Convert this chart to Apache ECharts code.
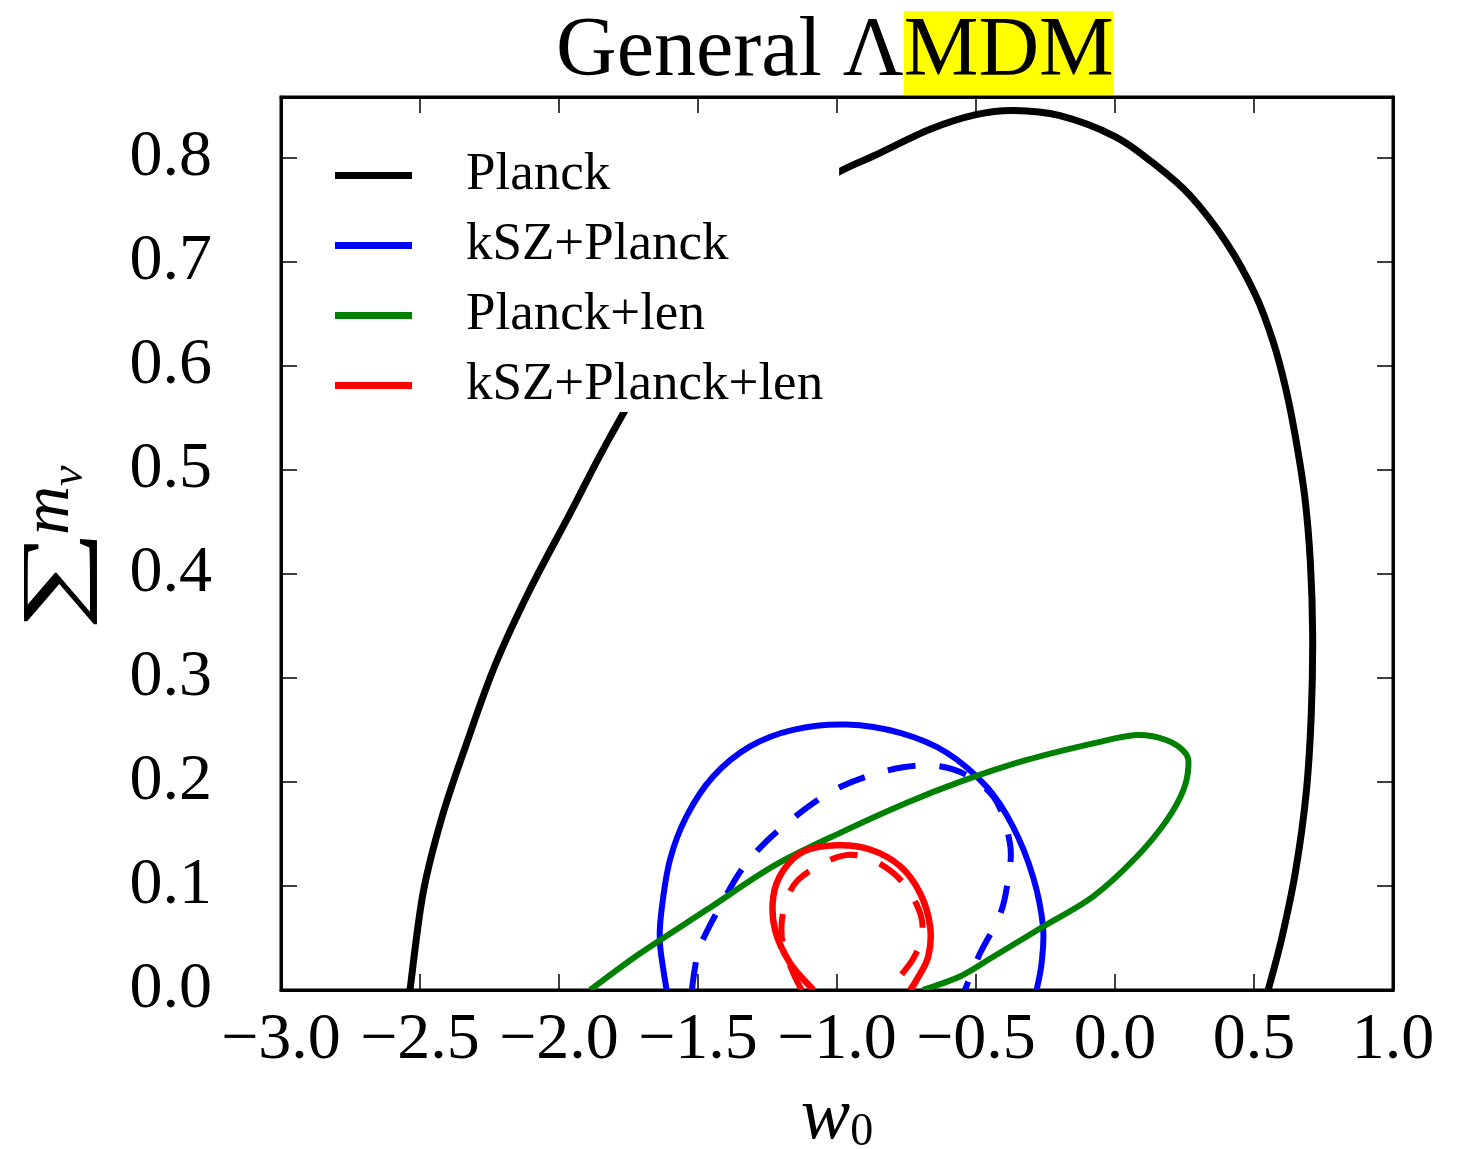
<!DOCTYPE html>
<html>
<head>
<meta charset="utf-8">
<script src="https://cdn.jsdelivr.net/npm/echarts@6/dist/echarts.min.js"></script>
<style>
  html, body { margin: 0; padding: 0; background: #ffffff; overflow: hidden; }
  #chart { width: 1467px; height: 1149px; }
</style>
</head>
<body>
<div id="chart"></div>
<script>
// Confidence contours in the (w0, sum of neutrino masses) plane.
// Each contour is a list of [w0, sum m_nu] points.

var xTicks = [-3.0, -2.5, -2.0, -1.5, -1.0, -0.5, 0.0, 0.5, 1.0];
var yTicks = [0.0, 0.1, 0.2, 0.3, 0.4, 0.5, 0.6, 0.7, 0.8];

var legendNames = ['Planck', 'kSZ+Planck', 'Planck+len', 'kSZ+Planck+len'];

var planck = [
  [-2.536, 0.000], [-2.489, 0.093], [-2.421, 0.166], [-2.331, 0.238],
  [-2.230, 0.312], [-2.104, 0.385], [-1.960, 0.458], [-1.817, 0.531],
  [-1.600, 0.630], [-1.400, 0.700], [-1.200, 0.752], [-1.000, 0.785],
  [-0.863, 0.802], [-0.665, 0.827], [-0.500, 0.841], [-0.364, 0.845],
  [-0.198, 0.840], [0.000, 0.820], [0.135, 0.795], [0.268, 0.764],
  [0.401, 0.718], [0.505, 0.668], [0.570, 0.622], [0.615, 0.577],
  [0.650, 0.530], [0.683, 0.473], [0.703, 0.410], [0.711, 0.341],
  [0.706, 0.265], [0.688, 0.190], [0.650, 0.115], [0.600, 0.050],
  [0.551, 0.000]
];

var kszPlanck = [
  [-1.613, 0.000], [-1.637, 0.045], [-1.631, 0.077], [-1.601, 0.125],
  [-1.541, 0.167], [-1.446, 0.205], [-1.313, 0.234], [-1.158, 0.250],
  [-0.965, 0.255], [-0.773, 0.247], [-0.605, 0.228], [-0.461, 0.195],
  [-0.367, 0.157], [-0.295, 0.109], [-0.259, 0.061], [-0.264, 0.026],
  [-0.282, 0.000]
];

var kszPlanckInner = [
  [-1.522, 0.000], [-1.511, 0.021], [-1.493, 0.042], [-1.421, 0.080],
  [-1.325, 0.122], [-1.181, 0.160], [-0.989, 0.195], [-0.762, 0.214],
  [-0.582, 0.212], [-0.438, 0.186], [-0.378, 0.141], [-0.385, 0.106],
  [-0.414, 0.072], [-0.486, 0.035], [-0.540, 0.000]
];

var planckLen = [
  [-1.888, 0.000], [-1.709, 0.035], [-1.469, 0.077], [-1.229, 0.119],
  [-0.989, 0.151], [-0.749, 0.180], [-0.558, 0.200], [-0.318, 0.221],
  [-0.078, 0.237], [0.078, 0.245], [0.186, 0.240], [0.252, 0.228],
  [0.264, 0.215], [0.246, 0.192], [0.186, 0.163], [0.078, 0.128],
  [-0.078, 0.090], [-0.258, 0.061], [-0.438, 0.032], [-0.558, 0.013],
  [-0.691, 0.000]
];

var kszPlanckLen = [
  [-1.085, 0.000], [-1.169, 0.026], [-1.223, 0.058], [-1.229, 0.090],
  [-1.193, 0.115], [-1.121, 0.133], [-1.001, 0.139], [-0.881, 0.135],
  [-0.773, 0.119], [-0.701, 0.093], [-0.665, 0.061], [-0.672, 0.032],
  [-0.713, 0.010], [-0.737, 0.000]
];

var kszPlanckLenInner = [
  [-1.127, 0.000], [-1.157, 0.016], [-1.193, 0.042], [-1.199, 0.064],
  [-1.181, 0.087], [-1.139, 0.106], [-1.049, 0.122], [-0.953, 0.130],
  [-0.857, 0.123], [-0.762, 0.103], [-0.701, 0.074], [-0.695, 0.051],
  [-0.726, 0.030], [-0.773, 0.013], [-0.802, 0.000]
];

var SERIF = '"Liberation Serif", "DejaVu Serif", serif';
var X_MIN = xTicks[0], X_MAX = xTicks[xTicks.length - 1];
var Y_MIN = yTicks[0], Y_MAX = 0.858;

function fmtTick(v) {
  var r = Math.round(v * 10) / 10;
  if (Math.abs(v - r) > 1e-6) return '';
  var s = Math.abs(r).toFixed(1);
  return r < 0 ? '\u2212' + s : s;
}

// Catmull-Rom spline through pixel points, written as cubic Bezier path data.
function splinePath(p) {
  var d = 'M' + p[0][0] + ' ' + p[0][1];
  for (var i = 0; i < p.length - 1; i++) {
    var p0 = p[i - 1] || p[i], p1 = p[i], p2 = p[i + 1], p3 = p[i + 2] || p[i + 1];
    var c1x = p1[0] + (p2[0] - p0[0]) / 6, c1y = p1[1] + (p2[1] - p0[1]) / 6;
    var c2x = p2[0] - (p3[0] - p1[0]) / 6, c2y = p2[1] - (p3[1] - p1[1]) / 6;
    d += ' C' + c1x + ' ' + c1y + ' ' + c2x + ' ' + c2y + ' ' + p2[0] + ' ' + p2[1];
  }
  return d;
}

// A contour is a custom series: its points go through the grid's axes (api.coord)
// and are joined by one smooth curve.
function contour(name, data, color, width, dashed) {
  return {
    name: name,
    type: 'custom',
    coordinateSystem: 'cartesian2d',
    data: data,
    encode: { x: 0, y: 1 },
    clip: true,
    silent: true,
    z: 2,
    itemStyle: { color: color },
    renderItem: function (params, api) {
      if (params.dataIndex !== 0) return null;
      var pts = data.map(function (d) { return api.coord(d); });
      return {
        type: 'path',
        shape: { pathData: splinePath(pts) },
        style: {
          fill: 'none',
          stroke: color,
          lineWidth: width,
          lineDash: dashed ? [28, 24] : null,
          lineCap: 'butt',
          lineJoin: 'round'
        }
      };
    }
  };
}

var tickStyle = { show: true, inside: true, length: 16, lineStyle: { color: '#000', width: 1.5 } };

// y-axis title: a wide summation sign followed by m with subscript nu, read bottom-to-top
var yTitle = {
  type: 'group',
  x: 57,
  y: 631,
  rotation: Math.PI / 2,
  silent: true,
  children: [
    {
      type: 'text', x: 0, y: 0, scaleX: 1.7,
      style: { text: '\u2211', font: '84px "Liberation Serif", serif', fill: '#000',
               textAlign: 'left', textVerticalAlign: 'middle', align: 'left', verticalAlign: 'middle' }
    },
    {
      type: 'text', x: 96, y: -7,
      style: { text: 'm', font: 'italic 68px "Liberation Serif", serif', fill: '#000',
               textAlign: 'left', textVerticalAlign: 'middle', align: 'left', verticalAlign: 'middle' }
    },
    {
      type: 'text', x: 145, y: 13,
      style: { text: '\u03BD', font: 'italic 46px "Liberation Serif", serif', fill: '#000',
               textAlign: 'left', textVerticalAlign: 'middle', align: 'left', verticalAlign: 'middle' }
    }
  ]
};

var chart = echarts.init(document.getElementById('chart'), null, { renderer: 'canvas', width: 1467, height: 1149 });

chart.setOption({
  backgroundColor: '#ffffff',
  animation: false,
  title: {
    text: '{a|General \u039B}{b|MDM}',
    left: 556,
    top: 10,
    padding: 0,
    textStyle: {
      fontWeight: 'normal',
      rich: {
        a: { fontFamily: SERIF, fontSize: 84, fontWeight: 'normal', color: '#000', lineHeight: 86 },
        b: { fontFamily: SERIF, fontSize: 84, fontWeight: 'normal', color: '#000', lineHeight: 86, backgroundColor: '#ffff00' }
      }
    }
  },
  graphic: [yTitle],
  grid: {
    left: 281, top: 97, width: 1112, height: 893,
    containLabel: false,
    outerBoundsMode: 'none',
    show: true, borderColor: '#000', borderWidth: 3, backgroundColor: 'transparent'
  },
  legend: {
    data: legendNames,
    orient: 'vertical',
    left: 315,
    top: 133,
    padding: [16, 16, 0, 20],
    itemGap: 17,
    itemWidth: 77,
    itemHeight: 7,
    icon: 'rect',
    backgroundColor: '#ffffff',
    borderWidth: 0,
    z: 5,
    itemStyle: { borderWidth: 0 },
    textStyle: { fontFamily: SERIF, fontSize: 53, color: '#000', lineHeight: 53, padding: [0, 0, 0, 49] }
  },
  xAxis: [
    {
      type: 'value', min: X_MIN, max: X_MAX, interval: 0.5,
      position: 'bottom',
      name: '{w|w}{s|0}',
      nameLocation: 'middle',
      nameGap: 92,
      nameTextStyle: {
        rich: {
          w: { fontFamily: SERIF, fontStyle: 'italic', fontSize: 74, color: '#000' },
          s: { fontFamily: SERIF, fontSize: 46, color: '#000', padding: [28, 0, 0, 0] }
        }
      },
      axisLine: { show: true, onZero: false, lineStyle: { color: '#000', width: 3 } },
      axisTick: tickStyle,
      splitLine: { show: false },
      axisLabel: { fontFamily: SERIF, fontSize: 66, color: '#000', margin: 18, formatter: fmtTick }
    },
    {
      type: 'value', min: X_MIN, max: X_MAX, interval: 0.5,
      position: 'top',
      axisLine: { show: true, onZero: false, lineStyle: { color: '#000', width: 3 } },
      axisTick: tickStyle,
      splitLine: { show: false },
      axisLabel: { show: false }
    }
  ],
  yAxis: [
    {
      type: 'value', min: Y_MIN, max: Y_MAX, interval: 0.1,
      position: 'left',
      axisLine: { show: true, onZero: false, lineStyle: { color: '#000', width: 3 } },
      axisTick: tickStyle,
      splitLine: { show: false },
      axisLabel: { fontFamily: SERIF, fontSize: 66, color: '#000', margin: 69, formatter: fmtTick }
    },
    {
      type: 'value', min: Y_MIN, max: Y_MAX, interval: 0.1,
      position: 'right',
      axisLine: { show: true, onZero: false, lineStyle: { color: '#000', width: 3 } },
      axisTick: tickStyle,
      splitLine: { show: false },
      axisLabel: { show: false }
    }
  ],
  series: [
    contour('Planck', planck, '#000000', 7, false),
    contour('kSZ+Planck', kszPlanck, '#0000ff', 6, false),
    contour('kSZ+Planck (68%)', kszPlanckInner, '#0000ff', 6, true),
    contour('Planck+len', planckLen, '#008000', 6, false),
    contour('kSZ+Planck+len', kszPlanckLen, '#ff0000', 6.5, false),
    contour('kSZ+Planck+len (68%)', kszPlanckLenInner, '#ff0000', 6, true)
  ]
});
</script>
</body>
</html>
